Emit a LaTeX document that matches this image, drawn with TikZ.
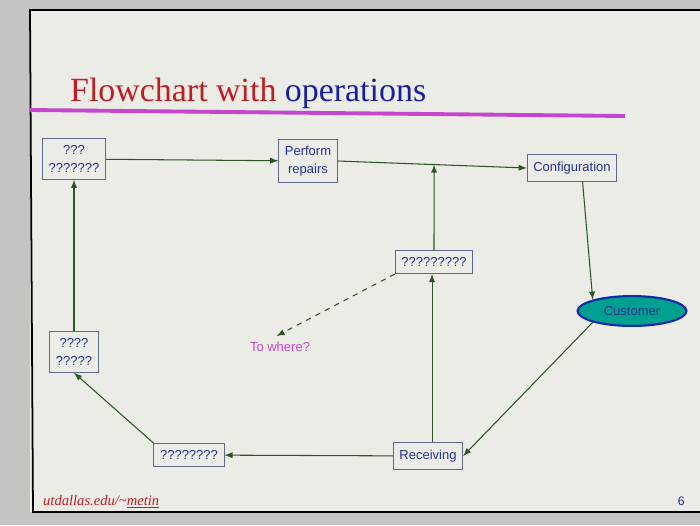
\documentclass[tikz,border=0pt]{standalone}
\usepackage{fontspec}
\setmainfont{Liberation Serif}
\setsansfont{Liberation Sans}
\usetikzlibrary{shapes,arrows}
\usetikzlibrary{positioning}
\usetikzlibrary{shapes.geometric}

\definecolor{slidebg}{RGB}{236,236,230}
\definecolor{outerbg}{RGB}{196,196,192}
\definecolor{titlered}{RGB}{190,30,35}
\definecolor{titleblue}{RGB}{25,30,160}
\definecolor{barpink}{RGB}{195,70,205}
\definecolor{boxline}{RGB}{95,105,140}
\definecolor{boxtext}{RGB}{35,50,140}
\definecolor{flowgreen}{RGB}{45,85,35}
\definecolor{teal}{RGB}{0,160,145}
\definecolor{ringblue}{RGB}{20,40,170}
\definecolor{askpink}{RGB}{200,70,200}

\tikzset{
  opbox/.style={draw=boxline, line width=0.5pt, font=\sffamily\fontsize{7.4}{10}\selectfont,
    text=boxtext, align=center, inner xsep=3.5pt, inner ysep=4pt},
  flow/.style={-latex, draw=flowgreen, line width=0.6pt},
}

\begin{document}
\begin{tikzpicture}[x=0.02cm, y=-0.02cm]
 \useasboundingbox (0,0) rectangle (700,525);
 \fill[outerbg] (0,0) rectangle (700,525);
 \fill[slidebg] (30,10) rectangle (700,512);
 \draw[black, line width=1pt] (700,10) -- (30,10) -- (33,512) -- (700,512);

 \node[anchor=base west, font=\fontsize{19.3}{22}\selectfont] (title) at (64,101)
   {\textcolor{titlered}{Flowchart with} \textcolor{titleblue}{operations}};
 \draw[barpink, line width=2.2pt] (30,110) -- (625,116);

 \node[opbox] (order) at (74,159) {???\\???????};
 \node[opbox] (repairs) at (308,161) {Perform\\repairs};
 \node[opbox] (config) at (572,168) {Configuration};
 \node[opbox] (query) at (434,262) {?????????};
 \node[ellipse, draw=ringblue, line width=1.2pt, fill=teal, minimum width=62pt,
   minimum height=17pt, inner sep=0pt, text=boxtext,
   font=\sffamily\fontsize{7.4}{9}\selectfont] (customer) at (632,311) {Customer};
 \node[opbox] (check) at (74,352) {????\\?????};
 \node[opbox] (store) at (189,455) {????????};
 \node[opbox] (receiving) at (428,456) {Receiving};
 \node[text=askpink, font=\sffamily\fontsize{7.4}{9}\selectfont] (towhere) at (280,347) {To where?};

 \draw[flow] (order) -- (repairs);
 \draw[flow] (repairs.east) -- (config.west) coordinate[pos=0.51] (join);
 \draw[flow] (query.north) -- (join);
 \draw[flow] ([xshift=6pt]config.south) -- (customer.north west);
 \draw[flow] (customer.south west) -- (receiving.east);
 \draw[flow] ([xshift=2.3pt]receiving.north) -- ([xshift=2.3pt]receiving.north |- query.south);
 \draw[flow] (receiving) -- (store);
 \draw[flow] (store.north west) -- (check.south);
 \draw[flow] (check) -- (order);
 \draw[flow, dashed] (query.south west) -- ([xshift=-2pt]towhere.north);

 \node[anchor=base west, text=titlered, font=\itshape\fontsize{8.3}{9}\selectfont] (site) at (37,505)
   {utdallas.edu/\textasciitilde\underline{metin}};
 \node[anchor=base east, text=boxtext, font=\sffamily\fontsize{7}{9}\selectfont] (page) at (691,505) {6};
\end{tikzpicture}
\end{document}
